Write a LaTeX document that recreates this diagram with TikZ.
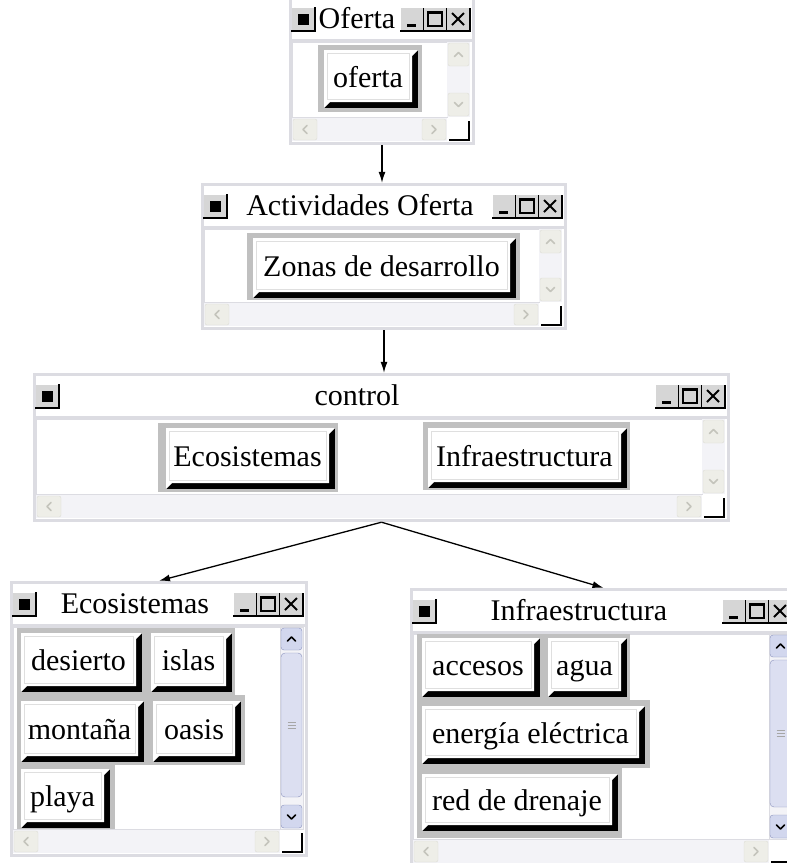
\documentclass[tikz,border=0pt]{standalone}
\usepackage{fontspec}
\setmainfont{Liberation Serif}
\usetikzlibrary{arrows.meta,fit}

\definecolor{marco}{HTML}{DCDCE2}
\definecolor{panel}{HTML}{C0C0C0}
\definecolor{botgris}{HTML}{D6D6D6}
\definecolor{pista}{HTML}{F3F3F7}
\definecolor{botscroll}{HTML}{EEEEE8}
\definecolor{bordescroll}{HTML}{DDDDD5}
\definecolor{chevgris}{HTML}{C4C4BC}
\definecolor{azulbot}{HTML}{D2D7EE}
\definecolor{azulclaro}{HTML}{DCDFF1}
\definecolor{azulborde}{HTML}{8A92BC}

% chevron: centre x, centre y, rotation, colour
\newcommand\chev[4]{\draw[#4,line width=1.6pt,line cap=round,line join=round,shift={({#1},{#2})},rotate=#3] (-4,2) -- (0,-2) -- (4,2);}
% inactive scroll button
\newcommand\sbot[5]{%
  \filldraw[fill=botscroll,draw=bordescroll,rounded corners=2pt] (#1,#2) rectangle (#3,#4);
  \chev{(#1+#3)/2}{(#2+#4)/2}{#5}{chevgris}}
% window: name, x1, y1, x2, y2, title, title centre
\newcommand\ventana[7]{%
  \fill[white] (#2,#3) rectangle (#4,#5);
  \draw[marco,line width=3pt] (#2+1.5,#3+1.5) rectangle (#4-1.5,#5-1.5);
  % title bar
  \fill[botgris] (#2+3,#3+12) rectangle (#2+26,#3+35);
  \draw[line width=1.5pt] (#2+2,#3+35) -- (#2+26,#3+35) -- (#2+26,#3+11);
  \fill (#2+9,#3+18) rectangle (#2+20,#3+29);
  \node[anchor=base] (#1-tit) at (#7,#3+32) {#6};
  \foreach \i in {0,1,2} {%
    \fill[botgris] (#4-74+23*\i,#3+12) rectangle (#4-51+23*\i,#3+35);
    \draw[line width=1.5pt] (#4-75+23*\i,#3+35) -- (#4-51+23*\i,#3+35) -- (#4-51+23*\i,#3+12);}
  \draw[line width=3pt] (#4-68,#3+29) -- (#4-59,#3+29);
  \draw[line width=1.4pt] (#4-47,#3+16) rectangle (#4-33,#3+30);
  \draw[line width=2.5pt] (#4-47,#3+17) -- (#4-33,#3+17);
  \draw[line width=1.8pt] (#4-23,#3+17) -- (#4-11,#3+29) (#4-23,#3+29) -- (#4-11,#3+17);
  % separator and content
  \draw[marco,line width=3pt] (#2,#3+44) -- (#4,#3+44);
  \draw[marco,line width=1pt] (#2+3,#3+46) rectangle (#4-28,#5-28);
  % scroll bars
  \fill[pista] (#4-28,#3+46) rectangle (#4-5,#5-28);
  \sbot{#4-27}{#3+47}{#4-6}{#3+70}{0}
  \sbot{#4-27}{#5-52}{#4-6}{#5-29}{180}
  \fill[pista] (#2+3,#5-27) rectangle (#4-28,#5-4);
  \sbot{#2+4}{#5-26}{#2+28}{#5-5}{90}
  \sbot{#4-53}{#5-26}{#4-29}{#5-5}{-90}
  \fill[white] (#4-26,#5-24) rectangle (#4-6,#5-5);
  \draw[line width=2pt] (#4-26,#5-5) -- (#4-6,#5-5) -- (#4-6,#5-24);
  \node[fit={(#2,#3) (#4,#5)},inner sep=0pt] (#1) {};
}
% active vertical scroll bar: x1, y1, x2, y2
\newcommand\barra[4]{%
  \filldraw[fill=pista,draw=marco] (#1,#2) rectangle (#3,#4);
  \filldraw[fill=azulbot,draw=azulborde,rounded corners=3pt] (#1+1,#2+1) rectangle (#3-1,#2+23);
  \chev{(#1+#3)/2}{#2+12}{0}{black}
  \filldraw[fill=azulclaro,draw=azulborde,rounded corners=4pt] (#1+1,#2+26) rectangle (#3-1,#4-32);
  \foreach \k in {-3,0,3} \draw[gray!70] ({(#1+#3)/2-4},{(#2+#4)/2-3+\k}) -- ({(#1+#3)/2+4},{(#2+#4)/2-3+\k});
  \filldraw[fill=azulbot,draw=azulborde,rounded corners=3pt] (#1+1,#4-24) rectangle (#3-1,#4-1);
  \chev{(#1+#3)/2}{#4-12}{180}{black}
}
% raised button: name, x1, y1, x2, y2, text
\newcommand\boton[6]{%
  \fill (#2,#3) rectangle (#4,#5);
  \fill[white] (#2,#3) -- (#4,#3) -- (#4-6,#3+6) -- (#4-6,#5-6) -- (#2+6,#5-6) -- (#2,#5) -- cycle;
  \draw[gray!25,line width=1pt] (#2+3,#3+3) rectangle (#4-9,#5-9);
  \node[anchor=base] (#1) at ({(#2+#4-6)/2},{(#3+#5-6)/2+11}) {#6};
}

\begin{document}
\begin{tikzpicture}[x=1pt,y=-1pt,font=\fontsize{30}{36}\selectfont,
    flecha/.style={-{Latex[length=11pt,width=7pt]},line width=1.3pt}]
  \useasboundingbox (0,0) rectangle (787,863);
  \fill[white] (0,0) rectangle (787,863);
  \clip (0,0) rectangle (787,863);

  % --- windows ---
  \ventana{oferta}{289}{-4}{475}{145}{Oferta}{357}
  \ventana{actividades}{201}{183}{567}{330}{Actividades Oferta}{360}
  \ventana{control}{33}{373}{730}{522}{control}{357}
  \ventana{ecosistemas}{10}{581}{308}{857}{Ecosistemas}{135}
  \ventana{infra}{410}{588}{797}{867}{Infraestructura}{579}
  \barra{280}{627}{303}{829}
  \barra{769}{634}{792}{839}

  % --- buttons ---
  \fill[panel] (318,45) rectangle (422,112);
  \boton{b-oferta}{324}{50}{418}{108}{oferta}
  \fill[panel] (247,233) rectangle (520,300);
  \boton{b-zonas}{253}{238}{516}{298}{Zonas de desarrollo}
  \fill[panel] (158,423) rectangle (338,492);
  \boton{b-eco}{166}{428}{335}{489}{Ecosistemas}
  \fill[panel] (423,422) rectangle (630,490);
  \boton{b-infra}{428}{428}{627}{488}{Infraestructura}

  % Ecosistemas panel
  \fill[panel] (17,628) rectangle (235,695);
  \fill[panel] (17,695) rectangle (245,765);
  \fill[panel] (17,765) rectangle (115,829);
  \boton{b-desierto}{21}{633}{142}{692}{desierto}
  \boton{b-islas}{151}{633}{232}{692}{islas}
  \boton{b-montana}{21}{701}{144}{762}{montaña}
  \boton{b-oasis}{153}{701}{241}{762}{oasis}
  \boton{b-playa}{21}{769}{110}{828}{playa}

  % Infraestructura panel
  \fill[panel] (417,634) rectangle (630,700);
  \fill[panel] (417,700) rectangle (650,768);
  \fill[panel] (417,768) rectangle (622,838);
  \boton{b-accesos}{422}{638}{540}{697}{accesos}
  \boton{b-agua}{548}{638}{627}{697}{agua}
  \boton{b-energia}{422}{706}{645}{764}{energía eléctrica}
  \boton{b-red}{422}{774}{618}{831}{red de drenaje}

  % --- arrows ---
  \draw[flecha] (oferta.south) -- (oferta.south |- actividades.north);
  \draw[flecha] (actividades.south) -- (actividades.south |- control.north);
  \draw[flecha] (control.south) -- (ecosistemas.north);
  \draw[flecha] (control.south) -- (infra.north);
\end{tikzpicture}
\end{document}
